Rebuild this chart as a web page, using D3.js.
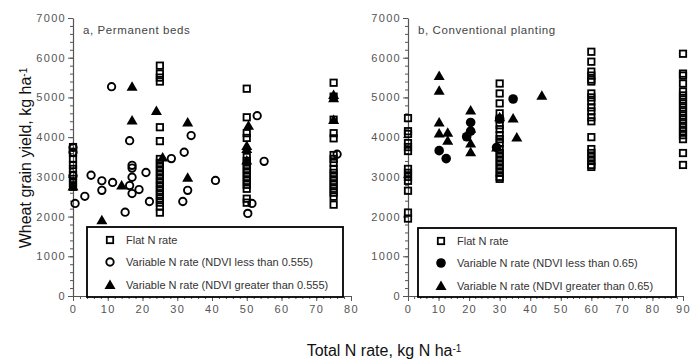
<!DOCTYPE html>
<html>
<head>
<meta charset="utf-8">
<script src="https://cdn.jsdelivr.net/npm/d3@7"></script>
<style>
  body { margin: 0; background: #fff; }
  svg { display: block; font-family: "Liberation Sans", Arial, sans-serif; }
</style>
</head>
<body>
<svg id="chart" width="691" height="360"></svg>
<script>
// yield ticks and N rate ticks
const yieldTicks = [0, 1000, 2000, 3000, 4000, 5000, 6000, 7000];
const bedsTicks = [0, 10, 20, 30, 40, 50, 60, 70, 80];
const convTicks = [0, 10, 20, 30, 40, 50, 60, 70, 80, 90];

// a, Permanent beds  -- [N rate, yield]
const bedsFlat = [
  [0, 3750], [0, 3600], [0, 3450], [0, 3300], [0, 3200], [0, 3050], [0, 2950], [0, 2850], [0, 2750],
  [25, 5800], [25, 5600], [25, 5500], [25, 5400], [25, 4250], [25, 3900], [25, 3450], [25, 3350],
  [25, 3250], [25, 3150], [25, 3050], [25, 2950], [25, 2850], [25, 2750], [25, 2650], [25, 2550],
  [25, 2450], [25, 2350], [25, 2250], [25, 2100],
  [50, 5220], [50, 4500], [50, 4100], [50, 3980], [50, 3500], [50, 3400], [50, 3300], [50, 3200],
  [50, 3100], [50, 3000], [50, 2900], [50, 2800], [50, 2700], [50, 2450], [50, 2350],
  [75, 5370], [75, 5020], [75, 4440], [75, 4100], [75, 3970], [75, 3550], [75, 3450], [75, 3350],
  [75, 3200], [75, 3100], [75, 3000], [75, 2900], [75, 2800], [75, 2700], [75, 2600], [75, 2500], [75, 2300]
];
const bedsLow = [
  [0, 3740], [0, 3620], [0, 3030], [0.6, 2330], [3.4, 2510], [5.2, 3040], [8.3, 2900], [8.3, 2660],
  [11.1, 5270], [11.4, 2860], [15, 2110], [16.3, 3910], [16.3, 2780], [17, 3290], [17, 3220],
  [17, 2990], [17, 2580], [19, 2680], [21, 3110], [22, 2380], [28.3, 3460], [32, 3620], [34, 4040],
  [31.6, 2380], [33, 2660], [41, 2910], [53, 4540], [55, 3390], [51.5, 2330], [50.3, 2080], [76, 3570]
];
const bedsHigh = [
  [0, 2760], [8.3, 1910], [14, 2780], [17, 5270], [17, 4420], [24, 4660], [25.8, 3490],
  [33, 4370], [33, 2980], [50.5, 4290], [50, 3780], [50, 3700], [50, 3410], [75, 5060], [75, 4980], [75, 4430]
];

// b, Conventional planting  -- [N rate, yield]
const convFlat = [
  [0, 4480], [0, 4150], [0, 4080], [0, 3850], [0, 3750], [0, 3650], [0, 3200], [0, 3100],
  [0, 3000], [0, 2900], [0, 2650], [0, 2100], [0, 1950],
  [30, 5350], [30, 5100], [30, 4850], [30, 4600], [30, 4450], [30, 4300], [30, 4200], [30, 4050],
  [30, 3950], [30, 3850], [30, 3700], [30, 3600], [30, 3500], [30, 3400], [30, 3300], [30, 3200],
  [30, 3100], [30, 3000], [30, 2950],
  [60, 6150], [60, 5900], [60, 5650], [60, 5550], [60, 5450], [60, 5400], [60, 5100], [60, 5000],
  [60, 4900], [60, 4750], [60, 4650], [60, 4500], [60, 4400], [60, 4000], [60, 3700], [60, 3600],
  [60, 3500], [60, 3400], [60, 3300], [60, 3250],
  [90, 6100], [90, 5600], [90, 5550], [90, 5350], [90, 5150], [90, 5050], [90, 4950], [90, 4850],
  [90, 4750], [90, 4650], [90, 4550], [90, 4450], [90, 4350], [90, 4250], [90, 4150], [90, 4050],
  [90, 3950], [90, 3600], [90, 3300]
];
const convLow = [
  [10.2, 3660], [12.5, 3460], [20.5, 4370], [20.5, 4150], [19.2, 4010], [34.4, 4960], [30, 4460], [29, 3740]
];
const convHigh = [
  [10.2, 5540], [10.2, 5170], [10.2, 4370], [10.2, 4090], [13, 4110], [13, 3910], [20.5, 4670],
  [20.5, 4210], [20.5, 3840], [20.5, 3620], [29, 3740], [30, 4500], [34.4, 4470], [35.6, 3990], [43.8, 5040]
];

const panels = [
  { title: "a, Permanent beds", x0: 73, x1: 351, xMax: 80, ticks: bedsTicks,
    flat: bedsFlat, low: bedsLow, high: bedsHigh, lowFilled: false,
    legend: { x: 87, y: 227, w: 256, h: 70 },
    labels: ["Flat N rate", "Variable N rate (NDVI less than 0.555)", "Variable N rate (NDVI greater than 0.555)"] },
  { title: "b, Conventional planting", x0: 408, x1: 683, xMax: 90, ticks: convTicks,
    flat: convFlat, low: convLow, high: convHigh, lowFilled: true,
    legend: { x: 418, y: 228, w: 258, h: 69 },
    labels: ["Flat N rate", "Variable N rate (NDVI less than 0.65)", "Variable N rate (NDVI greater than 0.65)"] }
];

const svg = d3.select("#chart");
const yTop = 18, yBottom = 296;

const y = d3.scaleLinear().domain([0, 7000]).range([yBottom, yTop]);

function triPath(cx, cy) {
  return `M${cx},${cy - 5.5}L${cx + 5.5},${cy + 4}L${cx - 5.5},${cy + 4}Z`;
}

function styleAxis(g) {
  g.select(".domain").attr("stroke", "#555").attr("stroke-width", 1.2);
  g.selectAll(".tick line").attr("stroke", "#555");
  g.selectAll("text").attr("fill", "#555").style("font-size", "11px").style("letter-spacing", "1.3px");
}

panels.forEach(p => {
  const x = d3.scaleLinear().domain([0, p.xMax]).range([p.x0, p.x1]);
  const g = svg.append("g");

  // minor ticks
  g.append("g").attr("transform", `translate(${p.x0},0)`)
    .call(d3.axisLeft(y).tickValues(d3.range(0, 7001, 200)).tickSize(3).tickFormat(""))
    .call(a => a.select(".domain").remove())
    .selectAll("line").attr("stroke", "#555");
  g.append("g").attr("transform", `translate(0,${yBottom})`)
    .call(d3.axisBottom(x).tickValues(d3.range(0, p.xMax + 1, 2)).tickSize(3).tickFormat(""))
    .call(a => a.select(".domain").remove())
    .selectAll("line").attr("stroke", "#555");

  // major axes
  g.append("g").attr("transform", `translate(${p.x0},0)`)
    .call(d3.axisLeft(y).tickValues(yieldTicks).tickFormat(d3.format("d"))
      .tickSize(5).tickSizeOuter(0).tickPadding(2))
    .call(styleAxis);
  g.append("g").attr("transform", `translate(0,${yBottom})`)
    .call(d3.axisBottom(x).tickValues(p.ticks).tickFormat(d3.format("d"))
      .tickSize(5).tickSizeOuter(0).tickPadding(4))
    .call(styleAxis);

  g.append("text").attr("x", p.x0 + 10).attr("y", 34)
    .attr("fill", "#444").style("font-size", "11.5px").style("letter-spacing", "0.6px")
    .text(p.title);

  // points
  g.append("g").selectAll("rect").data(p.flat).join("rect")
    .attr("x", d => x(d[0]) - 3.2).attr("y", d => y(d[1]) - 3.2)
    .attr("width", 6.4).attr("height", 6.4)
    .attr("fill", "none").attr("stroke", "#000").attr("stroke-width", 1.8);
  g.append("g").selectAll("circle").data(p.low).join("circle")
    .attr("cx", d => x(d[0])).attr("cy", d => y(d[1]))
    .attr("r", p.lowFilled ? 4.8 : 3.7)
    .attr("fill", p.lowFilled ? "#000" : "none")
    .attr("stroke", p.lowFilled ? "none" : "#000").attr("stroke-width", 1.9);
  g.append("g").selectAll("path").data(p.high).join("path")
    .attr("d", d => triPath(x(d[0]), y(d[1])))
    .attr("fill", "#000");

  // legend
  const L = p.legend;
  const lg = g.append("g");
  lg.append("rect").attr("x", L.x).attr("y", L.y).attr("width", L.w).attr("height", L.h)
    .attr("fill", "#fff").attr("stroke", "#000").attr("stroke-width", 1.8);
  const mx = L.x + 23, rows = [L.y + 13, L.y + 35, L.y + 58];
  lg.append("rect").attr("x", mx - 3.2).attr("y", rows[0] - 3.2).attr("width", 6.4).attr("height", 6.4)
    .attr("fill", "none").attr("stroke", "#000").attr("stroke-width", 1.8);
  lg.append("circle").attr("cx", mx).attr("cy", rows[1]).attr("r", p.lowFilled ? 4.8 : 3.7)
    .attr("fill", p.lowFilled ? "#000" : "none")
    .attr("stroke", p.lowFilled ? "none" : "#000").attr("stroke-width", 1.9);
  lg.append("path").attr("d", triPath(mx, rows[2])).attr("fill", "#000");
  p.labels.forEach((t, i) => {
    lg.append("text").attr("x", L.x + 39).attr("y", rows[i]).attr("dy", "0.35em")
      .attr("fill", "#333").style("font-size", "11px").text(t);
  });
});

// axis titles
const yt = svg.append("text")
  .attr("transform", "translate(31,158) rotate(-90)")
  .attr("text-anchor", "middle").attr("fill", "#111").style("font-size", "16px");
yt.append("tspan").text("Wheat grain yield, kg ha");
yt.append("tspan").attr("dy", "-0.45em").style("font-size", "10px").text("-1");

const xt = svg.append("text")
  .attr("x", 384).attr("y", 356)
  .attr("text-anchor", "middle").attr("fill", "#111").style("font-size", "16px");
xt.append("tspan").text("Total N rate, kg N ha");
xt.append("tspan").attr("dy", "-0.45em").style("font-size", "10px").text("-1");
</script>
</body>
</html>
